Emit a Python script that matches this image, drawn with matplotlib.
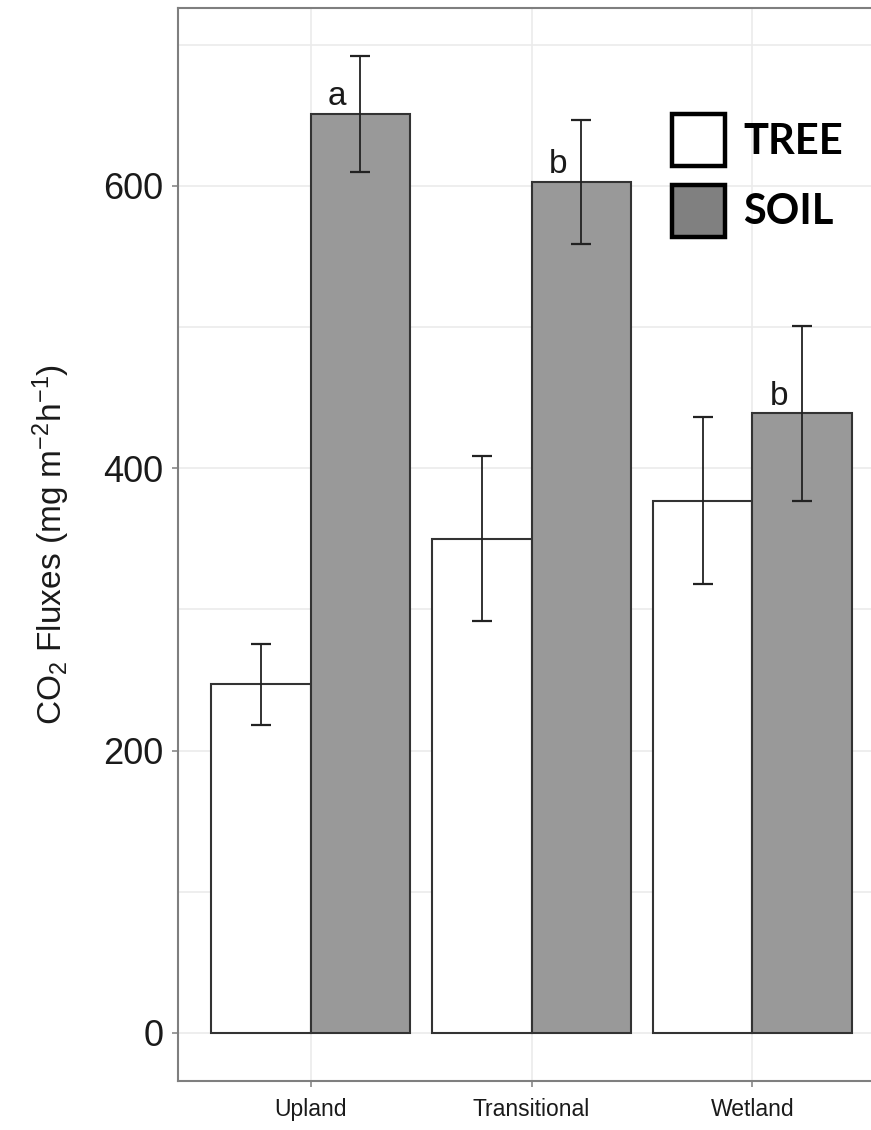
import matplotlib
matplotlib.use("Agg")
import matplotlib.pyplot as plt
import numpy as np
from matplotlib.patches import Patch

plt.rcParams["font.family"] = ["Liberation Sans", "DejaVu Sans"]
plt.rcParams["mathtext.default"] = "regular"

# valores (mg m-2 h-1)
sites = ["Upland", "Transitional", "Wetland"]
tree = [247, 350, 377]
tree_err = [28.5, 58.5, 59]
soil = [651, 603, 439]
soil_err = [41, 44, 62]
letters = ["a", "b", "b"]

W, H = 871, 1130
fig = plt.figure(figsize=(W / 100, H / 100), dpi=100)
ax = fig.add_axes([178 / W, 1 - 1081 / H, (885 - 178) / W, (1081 - 8) / H])

x = np.arange(len(sites))
bw = 0.45
ax.bar(x - bw / 2, tree, width=bw, color="white", edgecolor="#333333", lw=1.5, zorder=2)
ax.bar(x + bw / 2, soil, width=bw, color="#999999", edgecolor="#333333", lw=1.5, zorder=2)
ax.errorbar(x - bw / 2, tree, yerr=tree_err, fmt="none", ecolor="#222222",
            elinewidth=1.3, capsize=7, capthick=1.6, zorder=3)
ax.errorbar(x + bw / 2, soil, yerr=soil_err, fmt="none", ecolor="#222222",
            elinewidth=1.3, capsize=7, capthick=1.6, zorder=3)
for i, (s, t) in enumerate(zip(soil, letters)):
    ax.text(i + 0.12, s + 1, t, ha="center", va="bottom", fontsize=24,
            color="#1a1a1a", zorder=4)

ax.set_xlim(-0.6, 2.6)
ax.set_ylim(-34, 726)
ax.set_yticks([0, 200, 400, 600])
ax.set_yticks([100, 300, 500, 700], minor=True)
ax.set_xticks(x)
ax.set_xticklabels(sites, fontsize=16.5, color="#1a1a1a")
ax.tick_params(axis="y", labelsize=26, labelcolor="#1a1a1a", length=4.3, width=1.1,
               color="#7f7f7f", pad=6)
ax.tick_params(axis="y", which="minor", length=0)
ax.tick_params(axis="x", length=4.3, width=1.1, color="#7f7f7f", pad=8)
ax.grid(True, which="both", color="#ebebeb", lw=1.2, zorder=0)
ax.grid(False, axis="x", which="minor")
ax.set_axisbelow(True)
for sp in ax.spines.values():
    sp.set_color("#7f7f7f")
    sp.set_linewidth(1.5)

ax.set_ylabel(r"CO$_2$ Fluxes (mg m$^{-2}$h$^{-1}$)", fontsize=24, color="#1a1a1a")
ax.yaxis.set_label_coords(-0.150, 0.5)

handles = [Patch(facecolor="white", edgecolor="black", lw=3.2, label="TREE"),
           Patch(facecolor="#808080", edgecolor="black", lw=3.2, label="SOIL")]
fig.legend(handles=handles, loc="upper left", bbox_to_anchor=(672 / W, 1 - 114 / H),
           frameon=False, prop={"family": "Lato", "weight": "bold", "size": 30},
           handlelength=1.26, handleheight=1.54, handletextpad=0.45,
           labelspacing=0.45, borderpad=0, borderaxespad=0)

fig.savefig("out.png", dpi=100)
